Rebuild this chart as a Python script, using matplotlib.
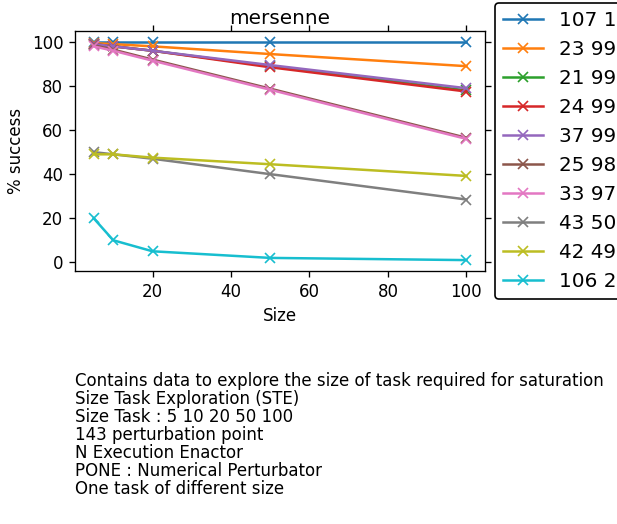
import matplotlib
matplotlib.use("Agg")
import matplotlib.pyplot as plt

# task sizes on x axis
sizes = [5, 10, 20, 50, 100]

# one series per program, % success
labels = ["107 100", "23 99", "21 99", "24 99", "37 99",
          "25 98", "33 97", "43 50", "42 49", "106 20"]
s107 = [100, 100, 100, 100, 100]
s23 = [99.5, 99, 98, 94.5, 89]
s21 = [99, 98, 96, 89, 78]
s24 = [99, 98, 96, 88.5, 77.5]
s37 = [99, 98, 96, 89.5, 79]
s25 = [98.5, 96.5, 92, 78.8, 56.5]
s33 = [98, 96, 91.5, 78.3, 56]
s43 = [50, 49, 47, 40, 28.5]
s42 = [49, 49, 47.5, 44.5, 39.2]
s106 = [20, 10, 5, 2, 1]
series = [s107, s23, s21, s24, s37, s25, s33, s43, s42, s106]

description = ("Contains data to explore the size of task required for saturation\n"
               "Size Task Exploration (STE)\n"
               "Size Task : 5 10 20 50 100\n"
               "143 perturbation point\n"
               "N Execution Enactor\n"
               "PONE : Numerical Perturbator\n"
               "One task of different size")

DPI = 120
fig = plt.figure(figsize=(617 / DPI, 524 / DPI), dpi=DPI)
ax = fig.add_axes([0.1216, 0.4828, 0.6645, 0.458])

for lab, vals in zip(labels, series):
    ax.plot(sizes, vals, marker="x", label=lab)

ax.set_title("mersenne", pad=4)
ax.set_xlabel("Size")
ax.set_ylabel("% success")
ax.tick_params(top=True, right=True)
leg = ax.legend(loc="center left", bbox_to_anchor=(1, 0.5), fontsize=12,
                edgecolor="black", framealpha=1)

fig.text(0.1216, 0.05, description, fontsize=10, va="bottom", ha="left",
         linespacing=1.0)

fig.savefig("out.png", dpi=DPI)
